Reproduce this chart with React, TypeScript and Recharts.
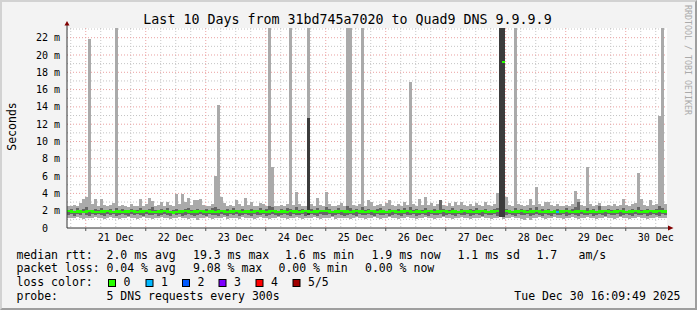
import { ComposedChart, Bar, XAxis, YAxis, CartesianGrid, Cell } from "recharts";

// one column per 1.2 h, 200 columns over the 10 days (values in ms)
const maxRtt = [
  2.5, 2.6, 2.7, 2.6, 2.9, 3.3, 3.6, 21.8, 2.8, 3.3, 2.6, 3.3, 2.7, 2.5, 2.7, 2.9, 24, 2.6, 2.7, 2.5,
  2.4, 2.8, 2.5, 2.6, 3.4, 2.6, 2.8, 3.5, 3.1, 2.6, 2.7, 3.0, 2.6, 3.0, 2.7, 2.6, 3.9, 2.8, 3.9, 3.0,
  3.5, 2.7, 3.2, 3.2, 3.4, 2.7, 2.6, 2.5, 2.8, 6.0, 14.2, 3.6, 2.9, 2.6, 2.7, 2.5, 3.2, 2.8, 2.6, 3.5,
  2.7, 3.0, 2.6, 2.5, 2.9, 2.8, 2.6, 24, 7.1, 2.6, 2.5, 2.7, 2.6, 2.8, 24, 2.7, 4.2, 2.8, 2.6, 2.5,
  24, 2.8, 2.6, 3.5, 2.7, 2.6, 4.2, 2.8, 2.6, 2.5, 2.7, 2.9, 2.6, 24, 24, 2.7, 2.6, 2.8, 24, 2.6,
  3.2, 3.0, 2.6, 2.7, 2.8, 2.6, 2.9, 3.2, 2.7, 2.5, 2.8, 2.6, 3.0, 2.7, 16.9, 2.8, 2.6, 3.3, 2.7, 3.6,
  2.7, 2.9, 2.6, 2.8, 3.2, 2.7, 2.6, 2.9, 2.6, 3.0, 2.7, 3.0, 2.7, 2.6, 2.8, 2.6, 2.9, 2.7, 2.6, 3.0,
  2.7, 2.6, 2.8, 4.1, 24, 24, 3.6, 2.7, 2.6, 24, 2.8, 2.7, 2.6, 2.7, 3.3, 2.7, 4.7, 2.8, 2.6, 3.0,
  3.0, 2.7, 2.6, 2.8, 2.6, 2.5, 2.7, 2.6, 2.8, 4.3, 3.3, 2.7, 2.6, 7.1, 2.8, 2.6, 2.7, 2.9, 2.6, 2.5,
  2.7, 2.6, 2.8, 2.6, 2.7, 3.3, 2.7, 2.6, 2.8, 2.9, 6.4, 3.3, 2.7, 2.6, 3.2, 2.7, 2.8, 12.9, 24, 2.8,
];

const minRtt = [
  1.2, 1.1, 1.2, 1.3, 1.1, 1.0, 1.2, 1.1, 1.2, 1.3, 1.1, 1.2, 1.0, 1.2, 1.3, 1.1, 1.2, 1.0, 1.2, 1.1,
  1.3, 1.2, 1.1, 1.0, 1.2, 1.3, 1.1, 1.2, 1.0, 1.1, 1.2, 1.3, 1.1, 1.2, 1.0, 1.2, 1.1, 1.3, 1.2, 1.1,
  1.0, 1.2, 1.1, 0.9, 1.2, 1.1, 1.3, 1.2, 1.0, 1.1, 1.2, 1.1, 1.3, 1.0, 1.2, 1.1, 1.2, 1.0, 1.3, 1.1,
  1.2, 1.1, 1.0, 1.2, 1.3, 1.1, 1.2, 1.0, 1.1, 1.2, 1.3, 1.1, 1.2, 1.0, 1.1, 1.2, 1.3, 1.1, 1.0, 1.2,
  1.1, 1.2, 1.3, 1.1, 1.0, 1.2, 1.1, 1.2, 1.3, 1.0, 1.2, 1.1, 1.2, 1.1, 1.0, 1.2, 1.3, 1.1, 1.2, 1.0,
  1.2, 1.1, 1.3, 1.2, 1.0, 1.1, 1.2, 1.3, 1.1, 1.2, 1.0, 1.2, 1.1, 1.3, 1.2, 1.1, 1.0, 1.2, 1.1, 1.3,
  1.1, 1.2, 1.0, 1.1, 1.2, 1.3, 1.1, 1.2, 1.0, 1.2, 1.1, 1.3, 1.2, 1.1, 1.0, 1.2, 1.1, 1.2, 1.3, 1.1,
  1.2, 1.0, 1.1, 1.2, 1.3, 1.0, 1.2, 1.1, 1.3, 1.2, 1.1, 1.0, 0.9, 1.1, 0.9, 1.2, 1.1, 1.3, 1.2, 1.0,
  1.1, 1.2, 1.3, 1.1, 1.2, 1.0, 1.2, 1.1, 1.3, 1.2, 1.0, 1.1, 1.2, 1.3, 1.1, 1.2, 1.0, 1.1, 1.2, 1.3,
  1.1, 1.2, 1.0, 1.1, 1.3, 1.2, 1.1, 1.0, 1.2, 1.1, 1.3, 1.2, 1.1, 1.0, 1.2, 1.1, 1.3, 1.2, 1.1, 1.2,
];

// darker smoke around the median
const coreLow = [
  1.5, 1.6, 1.4, 1.6, 1.5, 1.7, 1.5, 1.4, 1.6, 1.5, 1.6, 1.5, 1.4, 1.6, 1.5, 1.6, 1.4, 1.5, 1.6, 1.5,
  1.4, 1.6, 1.5, 1.6, 1.5, 1.4, 1.6, 1.5, 1.5, 1.6, 1.4, 1.5, 1.6, 1.5, 1.4, 1.6, 1.5, 1.6, 1.4, 1.5,
  1.6, 1.5, 1.4, 1.5, 1.6, 1.5, 1.4, 1.6, 1.5, 1.5, 1.4, 1.6, 1.5, 1.4, 1.6, 1.5, 1.6, 1.4, 1.5, 1.6,
  1.5, 1.4, 1.6, 1.5, 1.5, 1.6, 1.4, 1.5, 1.6, 1.5, 1.4, 1.5, 1.6, 1.5, 1.4, 1.6, 1.5, 1.5, 1.6, 1.4,
  1.5, 1.6, 1.5, 1.4, 1.6, 1.5, 1.5, 1.6, 1.4, 1.5, 1.6, 1.5, 1.4, 1.5, 1.6, 1.5, 1.4, 1.6, 1.5, 1.5,
  1.6, 1.5, 1.4, 1.6, 1.5, 1.5, 1.6, 1.4, 1.5, 1.6, 1.5, 1.4, 1.6, 1.5, 1.5, 1.6, 1.4, 1.5, 1.6, 1.5,
  1.4, 1.6, 1.5, 1.5, 1.6, 1.4, 1.5, 1.6, 1.5, 1.4, 1.6, 1.5, 1.5, 1.6, 1.4, 1.5, 1.6, 1.5, 1.4, 1.6,
  1.5, 1.5, 1.6, 1.4, 1.3, 1.3, 1.5, 1.6, 1.5, 1.4, 1.6, 1.5, 1.5, 1.6, 1.4, 1.5, 1.6, 1.5, 1.4, 1.6,
  1.5, 1.4, 1.6, 1.5, 1.5, 1.6, 1.4, 1.5, 1.6, 1.5, 1.4, 1.6, 1.5, 1.5, 1.6, 1.4, 1.5, 1.6, 1.5, 1.4,
  1.6, 1.5, 1.5, 1.6, 1.4, 1.5, 1.6, 1.5, 1.4, 1.6, 1.5, 1.5, 1.6, 1.4, 1.5, 1.6, 1.5, 1.4, 1.6, 1.5,
];

const coreHigh = [
  2.1, 2.2, 2.0, 2.3, 2.1, 2.2, 2.4, 2.1, 2.0, 2.2, 2.1, 2.3, 2.0, 2.1, 2.2, 2.0, 2.3, 2.1, 2.2, 2.0,
  2.1, 2.2, 2.0, 2.1, 2.3, 2.1, 2.0, 2.2, 2.4, 2.1, 2.0, 2.2, 2.1, 2.3, 2.0, 2.1, 2.2, 2.1, 2.0, 2.2,
  2.3, 2.1, 2.0, 2.2, 2.1, 2.0, 2.2, 2.1, 2.3, 2.4, 2.2, 2.1, 2.0, 2.2, 2.1, 2.3, 2.0, 2.1, 2.2, 2.1,
  2.0, 2.2, 2.1, 2.0, 2.3, 2.1, 2.2, 2.5, 2.4, 2.1, 2.0, 2.2, 2.1, 2.3, 2.2, 2.0, 2.4, 2.1, 2.2, 2.0,
  12.7, 2.2, 2.1, 2.3, 2.0, 2.1, 2.4, 2.2, 2.0, 2.1, 2.3, 2.1, 2.0, 2.5, 2.3, 2.1, 2.2, 2.0, 2.4, 2.1,
  2.2, 2.1, 2.0, 2.2, 2.3, 2.1, 2.0, 2.2, 2.1, 2.0, 2.2, 2.1, 2.3, 2.0, 2.4, 2.1, 2.2, 2.0, 2.1, 2.3,
  2.1, 2.0, 2.2, 2.1, 3.2, 2.2, 2.0, 2.1, 2.3, 2.1, 2.0, 2.2, 2.1, 2.0, 2.2, 2.1, 2.3, 2.0, 2.1, 2.2,
  2.0, 2.1, 2.2, 2.3, 24, 24, 2.2, 2.1, 2.0, 2.3, 2.1, 2.2, 2.0, 2.1, 2.3, 2.1, 2.4, 2.0, 2.2, 2.1,
  2.2, 2.0, 2.1, 2.2, 2.0, 2.1, 2.3, 2.0, 2.2, 2.4, 3.0, 2.1, 2.0, 2.3, 2.1, 2.2, 2.0, 2.6, 2.1, 2.0,
  2.2, 2.1, 2.0, 2.2, 2.1, 2.3, 2.0, 2.1, 2.2, 2.0, 2.4, 2.1, 2.0, 2.2, 2.1, 2.0, 2.2, 2.5, 2.3, 2.1,
];

const medianRtt: (number | null)[] = [
  1.95, 1.9, 1.85, 1.9, 1.9, 1.85, 1.9, 1.95, 1.9, 1.85, 1.85, 1.9, 1.9, 1.95, 1.9, 1.85, 1.9, 1.9, 1.85, 1.9,
  1.9, 1.95, 1.9, 1.85, 1.9, 1.9, 1.95, 1.9, 1.85, 1.85, 1.9, 1.9, 1.95, 1.9, 1.85, 1.8, 1.85, 1.9, 1.9, 1.95,
  1.9, 1.85, 1.9, 1.9, 1.95, 1.9, 1.85, 1.9, 1.9, 1.85, 1.9, 1.95, 1.9, 1.85, 1.9, 1.9, 1.95, 1.9, 1.85, 1.9,
  1.9, 1.85, 1.9, 1.95, 1.9, 1.9, 1.85, 1.9, 1.95, 1.9, 1.85, 1.9, 1.9, 1.85, 1.95, 1.9, 1.9, 1.85, 1.9, 1.95,
  1.9, 1.85, 1.9, 1.9, 1.95, 2.0, 1.95, 1.9, 1.85, 1.9, 1.9, 1.95, 1.9, 1.9, 1.85, 1.9, 1.95, 1.9, 1.9, 1.85,
  1.9, 1.95, 1.9, 1.85, 1.9, 1.9, 1.85, 1.9, 1.95, 1.9, 1.85, 1.9, 1.9, 1.95, 1.9, 1.85, 1.9, 1.9, 1.85, 1.9,
  1.95, 1.9, 1.85, 1.9, 1.9, 1.95, 1.9, 1.85, 1.9, 1.9, 1.85, 1.9, 1.95, 1.9, 1.9, 1.85, 1.9, 1.9, 1.95, 1.9,
  1.85, 1.9, 1.9, 1.95, null, 19.2, 1.95, 1.9, 1.85, 1.9, 1.9, 1.95, 1.9, 1.85, 1.9, 1.9, 1.95, 1.9, 1.85, 1.9,
  1.9, 1.85, 1.9, 1.85, 1.9, 1.9, 1.95, 1.9, 1.85, 1.9, 1.9, 1.95, 1.9, 1.85, 1.9, 1.9, 1.85, 1.9, 1.9, 1.95,
  1.9, 1.85, 1.9, 1.9, 1.95, 1.9, 1.85, 1.9, 1.9, 1.95, 1.9, 1.85, 1.9, 1.9, 1.95, 1.9, 1.9, 1.95, 1.9, 1.9,
];

// [column, lost pings] — every other column lost nothing
const lossEvents: [number, number][] = [[163, 1]];

const lossColors = ["#26ff00", "#00b8ff", "#0059ff", "#7e00ff", "#ff0000", "#a10000"];
const lossLabels = ["0", "1", "2", "3", "4", "5/5"];

// time axis in hours from Dec 20 00:00; first column starts at 16:30, 1.2 h per column
const startHour = 16.5;
const stepHours = 1.2;
const dayNoon = [36, 60, 84, 108, 132, 156, 180, 204, 228, 252];
const dayLabels = ["21 Dec", "22 Dec", "23 Dec", "24 Dec", "25 Dec", "26 Dec", "27 Dec", "28 Dec", "29 Dec", "30 Dec"];
const midnights = [24, 48, 72, 96, 120, 144, 168, 192, 216, 240];
const sixHours = [18, 30, 36, 42, 54, 60, 66, 78, 84, 90, 102, 108, 114, 126, 132, 138, 150, 156, 162,
  174, 180, 186, 198, 204, 210, 222, 228, 234, 246, 252];
const yTicks = [0, 2, 4, 6, 8, 10, 12, 14, 16, 18, 20, 22];
const yMajor = [2, 4, 6, 8, 10, 12, 14, 16, 18, 20, 22];
const yMinor = [1, 3, 5, 7, 9, 11, 13, 15, 17, 19, 21, 23];

const HALF = 0.13; // half thickness of the median line, ms

// stacked pieces per column: base (invisible) / light smoke / dark smoke / median / dark smoke / light smoke
const rows = maxRtt.map((hi, i) => {
  const m = medianRtt[i];
  const ev = lossEvents.find((e) => e[0] === i);
  const lo = minRtt[i];
  const dlo = coreLow[i];
  const dhi = coreHigh[i];
  const mTop = m == null ? dhi : m + HALF;
  return {
    hour: startHour + stepHours * (i + 0.5),
    base: lo,
    light1: dlo - lo,
    dark1: (m == null ? dhi : m - HALF) - dlo,
    med: m == null ? 0 : 2 * HALF,
    dark2: Math.max(0, dhi - mTop),
    light2: hi - Math.max(dhi, mTop),
    loss: ev ? ev[1] : 0,
    deep: dhi > 5,
  };
});

const mono = "'DejaVu Sans Mono', monospace";

const RttTick = (props: any) => {
  const { x, y, payload } = props;
  const v = payload.value;
  return (
    <text x={v === 0 ? x - 12 : x} y={y + 3.6} textAnchor="end" fontFamily={mono} fontSize={10} fill="#000">
      {v === 0 ? "0" : `${v} m`}
    </text>
  );
};

// label at noon, small tick mark at the preceding midnight (12 h = 30 px)
const DayTick = (props: any) => {
  const { x, y, payload } = props;
  const mx = x - 30;
  return (
    <g>
      <line x1={mx} y1={y} x2={mx} y2={y + 3} stroke="#555" />
      <text x={x} y={y + 13} textAnchor="middle" fontFamily={mono} fontSize={10} fill="#000">
        {dayLabels[dayNoon.indexOf(payload.value)]}
      </text>
    </g>
  );
};

const legendRows = [
  { y: 258.5, label: "median rtt:", parts: [[106.5, "2.0 ms avg"], [193, "19.3 ms max"], [285, "1.6 ms min"], [371.5, "1.9 ms now"], [457.5, "1.1 ms sd"], [536.5, "1.7"], [578.5, "am/s"]] },
  { y: 272, label: "packet loss:", parts: [[106.5, "0.04 % avg"], [193, "9.08 % max"], [278.5, "0.00 % min"], [365, "0.00 % now"]] },
];

const boxX = [108.5, 146, 182.5, 219, 256, 293];

export default function App() {
  return (
    <div
      style={{
        position: "absolute",
        left: 0,
        top: 0,
        width: 697,
        height: 310,
        overflow: "hidden",
        background: "#f3f3f3",
        boxSizing: "border-box",
        borderTop: "2px solid #d2d2d2",
        borderLeft: "2px solid #d2d2d2",
        borderRight: "2px solid #9e9e9e",
        borderBottom: "2px solid #9e9e9e",
      }}
    >
      <style>{`.recharts-bar .recharts-rectangle { shape-rendering: crispEdges; }`}</style>
      <div style={{ position: "absolute", left: -2, top: -2 }}>
        <ComposedChart
          width={697}
          height={310}
          data={rows}
          margin={{ top: 28, right: 30, bottom: 52, left: 7 }}
          barCategoryGap={0}
          barGap={0}
        >
          <CartesianGrid
            fill="#fff"
            stroke="#c4c4c4"
            strokeDasharray="1 2"
            horizontalValues={yMinor}
            verticalValues={sixHours}
          />
          <CartesianGrid
            stroke="#eaa0a0"
            strokeDasharray="1 2"
            horizontalValues={yMajor}
            verticalValues={midnights}
          />
          <XAxis
            dataKey="hour"
            type="number"
            domain={[startHour, startHour + 200 * stepHours]}
            allowDataOverflow
            ticks={dayNoon}
            interval={0}
            tick={(p: any) => <DayTick {...p} />}
            tickSize={0}
            tickMargin={0}
            tickLine={false}
            axisLine={{ stroke: "#333" }}
            height={30}
          />
          <YAxis
            type="number"
            domain={[0, 23.12]}
            allowDataOverflow
            ticks={yTicks}
            interval={0}
            width={60}
            tickSize={0}
            tickMargin={7}
            tickLine={false}
            axisLine={{ stroke: "#333" }}
            tick={(p: any) => <RttTick {...p} />}
          />
          <Bar dataKey="base" stackId="r" fill="transparent" barSize={3} isAnimationActive={false} />
          <Bar dataKey="light1" stackId="r" fill="#aaaaaa" barSize={3} isAnimationActive={false} />
          <Bar dataKey="dark1" stackId="r" barSize={3} isAnimationActive={false}>
            {rows.map((r, i) => (
              <Cell key={i} fill={r.deep ? "#3c3c3c" : "#666666"} />
            ))}
          </Bar>
          <Bar dataKey="med" stackId="r" barSize={3} isAnimationActive={false}>
            {rows.map((r, i) => (
              <Cell key={i} fill={lossColors[r.loss]} />
            ))}
          </Bar>
          <Bar dataKey="dark2" stackId="r" barSize={3} isAnimationActive={false}>
            {rows.map((r, i) => (
              <Cell key={i} fill={r.deep ? "#3c3c3c" : "#666666"} />
            ))}
          </Bar>
          <Bar dataKey="light2" stackId="r" fill="#aaaaaa" barSize={3} isAnimationActive={false} />
        </ComposedChart>
      </div>
      <svg
        width={697}
        height={310}
        style={{ position: "absolute", left: -2, top: -2, pointerEvents: "none" }}
        fontFamily={mono}
      >
        <text x={347.5} y={24} textAnchor="middle" fontSize={13.3} fill="#000">
          Last 10 Days from 31bd745a7020 to Quad9 DNS 9.9.9.9
        </text>
        <text transform="translate(16,126.5) rotate(-90)" textAnchor="middle" fontSize={11.5} fill="#000">
          Seconds
        </text>
        <text transform="translate(684.5,5) rotate(90)" fontSize={8.3} fill="#aaaaaa">
          RRDTOOL / TOBI OETIKER
        </text>
        {/* axis arrows */}
        <line x1={67} y1={28} x2={67} y2={24} stroke="#333" />
        <polygon points="64.5,25.5 67,21 69.5,25.5" fill="#800000" />
        <line x1={667} y1={228} x2={669} y2={228} stroke="#333" />
        <polygon points="668,225.5 673.5,228 668,230.5" fill="#800000" />
        {legendRows.map((r) => (
          <g key={r.label} fontSize={11.5} fill="#000">
            <text x={16.5} y={r.y}>{r.label}</text>
            {r.parts.map(([x, s]) => (
              <text key={s as string} x={x as number} y={r.y}>{s}</text>
            ))}
          </g>
        ))}
        <text x={16.5} y={285.5} fontSize={11.5} fill="#000">loss color:</text>
        {lossColors.map((c, i) => (
          <g key={c}>
            <rect x={boxX[i]} y={279.5} width={7} height={7} fill={c} stroke="#000" strokeWidth={1} />
            <text x={boxX[i] + 15} y={285.5} fontSize={11.5} fill="#000">{lossLabels[i]}</text>
          </g>
        ))}
        <text x={16.5} y={299.5} fontSize={11.5} fill="#000">probe:</text>
        <text x={106.5} y={299.5} fontSize={11.5} fill="#000">5 DNS requests every 300s</text>
        <text x={680.5} y={299.5} textAnchor="end" fontSize={11.5} fill="#000">Tue Dec 30 16:09:49 2025</text>
      </svg>
    </div>
  );
}
